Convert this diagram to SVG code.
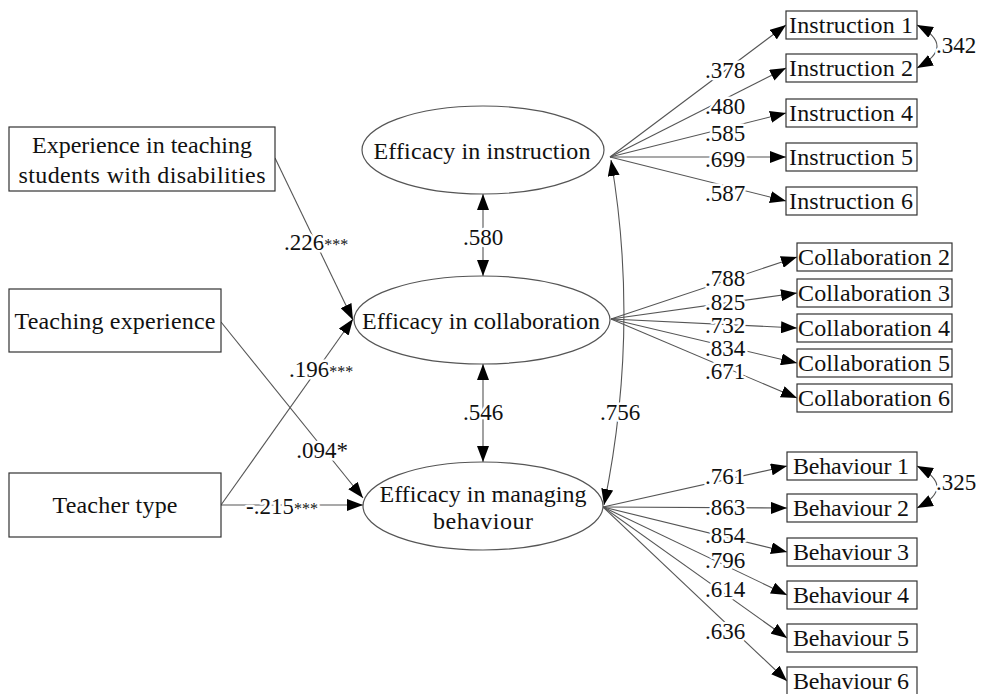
<svg xmlns="http://www.w3.org/2000/svg" width="983" height="694" viewBox="0 0 983 694" font-family="Liberation Serif, DejaVu Serif, serif" font-size="24">
<style>
text{fill:#111;text-anchor:middle}
.box{fill:#fff;stroke:#333;stroke-width:1.2}
.ell{fill:#fff;stroke:#555;stroke-width:1.2}
.ln{fill:none;stroke:#555;stroke-width:1.1}
.lbl{font-size:23px;stroke:#fff;stroke-width:5;paint-order:stroke;stroke-linejoin:round}
.sup{font-size:16px}
</style>
<defs>
<marker id="ah" markerUnits="userSpaceOnUse" markerWidth="16" markerHeight="12" viewBox="0 0 16 12" refX="16" refY="6" orient="auto-start-reverse">
<path d="M0,0 L16,6 L0,12 z" fill="#000"/>
</marker>
</defs>

<g id="connectors">
<path class="ln" d="M610,157 L786,25" marker-end="url(#ah)"/>
<path class="ln" d="M610,157 L786,68" marker-end="url(#ah)"/>
<path class="ln" d="M610,157 L786,113" marker-end="url(#ah)"/>
<path class="ln" d="M610,157 L786,157" marker-end="url(#ah)"/>
<path class="ln" d="M610,157 L786,201" marker-end="url(#ah)"/>
<path class="ln" d="M611,319 L797,257" marker-end="url(#ah)"/>
<path class="ln" d="M611,319 L797,293" marker-end="url(#ah)"/>
<path class="ln" d="M611,319 L797,328" marker-end="url(#ah)"/>
<path class="ln" d="M611,319 L797,363" marker-end="url(#ah)"/>
<path class="ln" d="M611,319 L797,398" marker-end="url(#ah)"/>
<path class="ln" d="M603,507 L787,466" marker-end="url(#ah)"/>
<path class="ln" d="M603,507 L787,508" marker-end="url(#ah)"/>
<path class="ln" d="M603,507 L787,552" marker-end="url(#ah)"/>
<path class="ln" d="M603,507 L787,595" marker-end="url(#ah)"/>
<path class="ln" d="M603,507 L787,638" marker-end="url(#ah)"/>
<path class="ln" d="M603,507 L787,681" marker-end="url(#ah)"/>
<path class="ln" d="M917,25 Q957,46 917,68" marker-start="url(#ah)" marker-end="url(#ah)"/>
<path class="ln" d="M917,466 Q957,487 917,508" marker-start="url(#ah)" marker-end="url(#ah)"/>
<path class="ln" d="M611,160 Q640,330 604,505" marker-start="url(#ah)" marker-end="url(#ah)"/>
<path class="ln" d="M483,194 L483,276" marker-start="url(#ah)" marker-end="url(#ah)"/>
<path class="ln" d="M483,364 L483,462" marker-start="url(#ah)" marker-end="url(#ah)"/>
<path class="ln" d="M275,158 L353,320" marker-end="url(#ah)"/>
<path class="ln" d="M221,505 L353,319" marker-end="url(#ah)"/>
<path class="ln" d="M221,322 L363,498" marker-end="url(#ah)"/>
<path class="ln" d="M221,505 L363,505" marker-end="url(#ah)"/>

<text class="lbl" x="725" y="78">.378</text>
<text class="lbl" x="725" y="114">.480</text>
<text class="lbl" x="725" y="141">.585</text>
<text class="lbl" x="725" y="167">.699</text>
<text class="lbl" x="725" y="201">.587</text>
<text class="lbl" x="725" y="286">.788</text>
<text class="lbl" x="725" y="310">.825</text>
<text class="lbl" x="725" y="333">.732</text>
<text class="lbl" x="725" y="356">.834</text>
<text class="lbl" x="725" y="379">.671</text>
<text class="lbl" x="725" y="484">.761</text>
<text class="lbl" x="725" y="515">.863</text>
<text class="lbl" x="725" y="543">.854</text>
<text class="lbl" x="725" y="568">.796</text>
<text class="lbl" x="725" y="597">.614</text>
<text class="lbl" x="725" y="639">.636</text>
<text class="lbl" x="956" y="53">.342</text>
<text class="lbl" x="956" y="490">.325</text>
<text class="lbl" x="620" y="420">.756</text>
<text class="lbl" x="483" y="245">.580</text>
<text class="lbl" x="483" y="420">.546</text>
<text class="lbl" x="316" y="250">.226<tspan class="sup">***</tspan></text>
<text class="lbl" x="321" y="377">.196<tspan class="sup">***</tspan></text>
<text class="lbl" x="322" y="458">.094*</text>
<text class="lbl" x="282" y="514">-.215<tspan class="sup">***</tspan></text>
</g>

<g id="exp-disab"><rect class="box" x="9" y="127" width="266" height="64"/><text x="142" y="153" textLength="220">Experience in teaching</text><text x="142" y="183" textLength="247">students with disabilities</text></g>
<g id="teach-exp"><rect class="box" x="9" y="289" width="212" height="63"/><text x="115" y="329" textLength="201">Teaching experience</text></g>
<g id="teacher-type"><rect class="box" x="9" y="473" width="212" height="64"/><text x="115" y="513" textLength="125">Teacher type</text></g>

<g id="eff-instr"><ellipse class="ell" cx="483" cy="150" rx="121" ry="44"/><text x="482" y="159" textLength="217">Efficacy in instruction</text></g>
<g id="eff-collab"><ellipse class="ell" cx="482" cy="320" rx="128" ry="44"/><text x="481" y="329" textLength="238">Efficacy in collaboration</text></g>
<g id="eff-behav"><ellipse class="ell" cx="483" cy="506" rx="120" ry="44"/><text x="483" y="502" textLength="207">Efficacy in managing</text><text x="483" y="529" textLength="100">behaviour</text></g>

<g id="instr1"><rect class="box" x="786" y="11" width="131" height="28"/><text x="851" y="33" textLength="124">Instruction 1</text></g>
<g id="instr2"><rect class="box" x="786" y="54" width="131" height="28"/><text x="851" y="76" textLength="124">Instruction 2</text></g>
<g id="instr4"><rect class="box" x="786" y="99" width="131" height="28"/><text x="851" y="121" textLength="124">Instruction 4</text></g>
<g id="instr5"><rect class="box" x="786" y="143" width="131" height="28"/><text x="851" y="165" textLength="124">Instruction 5</text></g>
<g id="instr6"><rect class="box" x="786" y="187" width="131" height="28"/><text x="851" y="209" textLength="124">Instruction 6</text></g>

<g id="collab2"><rect class="box" x="797" y="243" width="155" height="28"/><text x="874" y="265" textLength="152">Collaboration 2</text></g>
<g id="collab3"><rect class="box" x="797" y="279" width="155" height="28"/><text x="874" y="301" textLength="152">Collaboration 3</text></g>
<g id="collab4"><rect class="box" x="797" y="314" width="155" height="28"/><text x="874" y="336" textLength="152">Collaboration 4</text></g>
<g id="collab5"><rect class="box" x="797" y="349" width="155" height="28"/><text x="874" y="371" textLength="152">Collaboration 5</text></g>
<g id="collab6"><rect class="box" x="797" y="384" width="155" height="28"/><text x="874" y="406" textLength="152">Collaboration 6</text></g>

<g id="behav1"><rect class="box" x="787" y="452" width="130" height="28"/><text x="851" y="474" textLength="116">Behaviour 1</text></g>
<g id="behav2"><rect class="box" x="787" y="494" width="130" height="28"/><text x="851" y="516" textLength="116">Behaviour 2</text></g>
<g id="behav3"><rect class="box" x="787" y="538" width="130" height="28"/><text x="851" y="560" textLength="116">Behaviour 3</text></g>
<g id="behav4"><rect class="box" x="787" y="581" width="130" height="28"/><text x="851" y="603" textLength="116">Behaviour 4</text></g>
<g id="behav5"><rect class="box" x="787" y="624" width="130" height="28"/><text x="851" y="646" textLength="116">Behaviour 5</text></g>
<g id="behav6"><rect class="box" x="787" y="667" width="130" height="28"/><text x="851" y="689" textLength="116">Behaviour 6</text></g>
</svg>
